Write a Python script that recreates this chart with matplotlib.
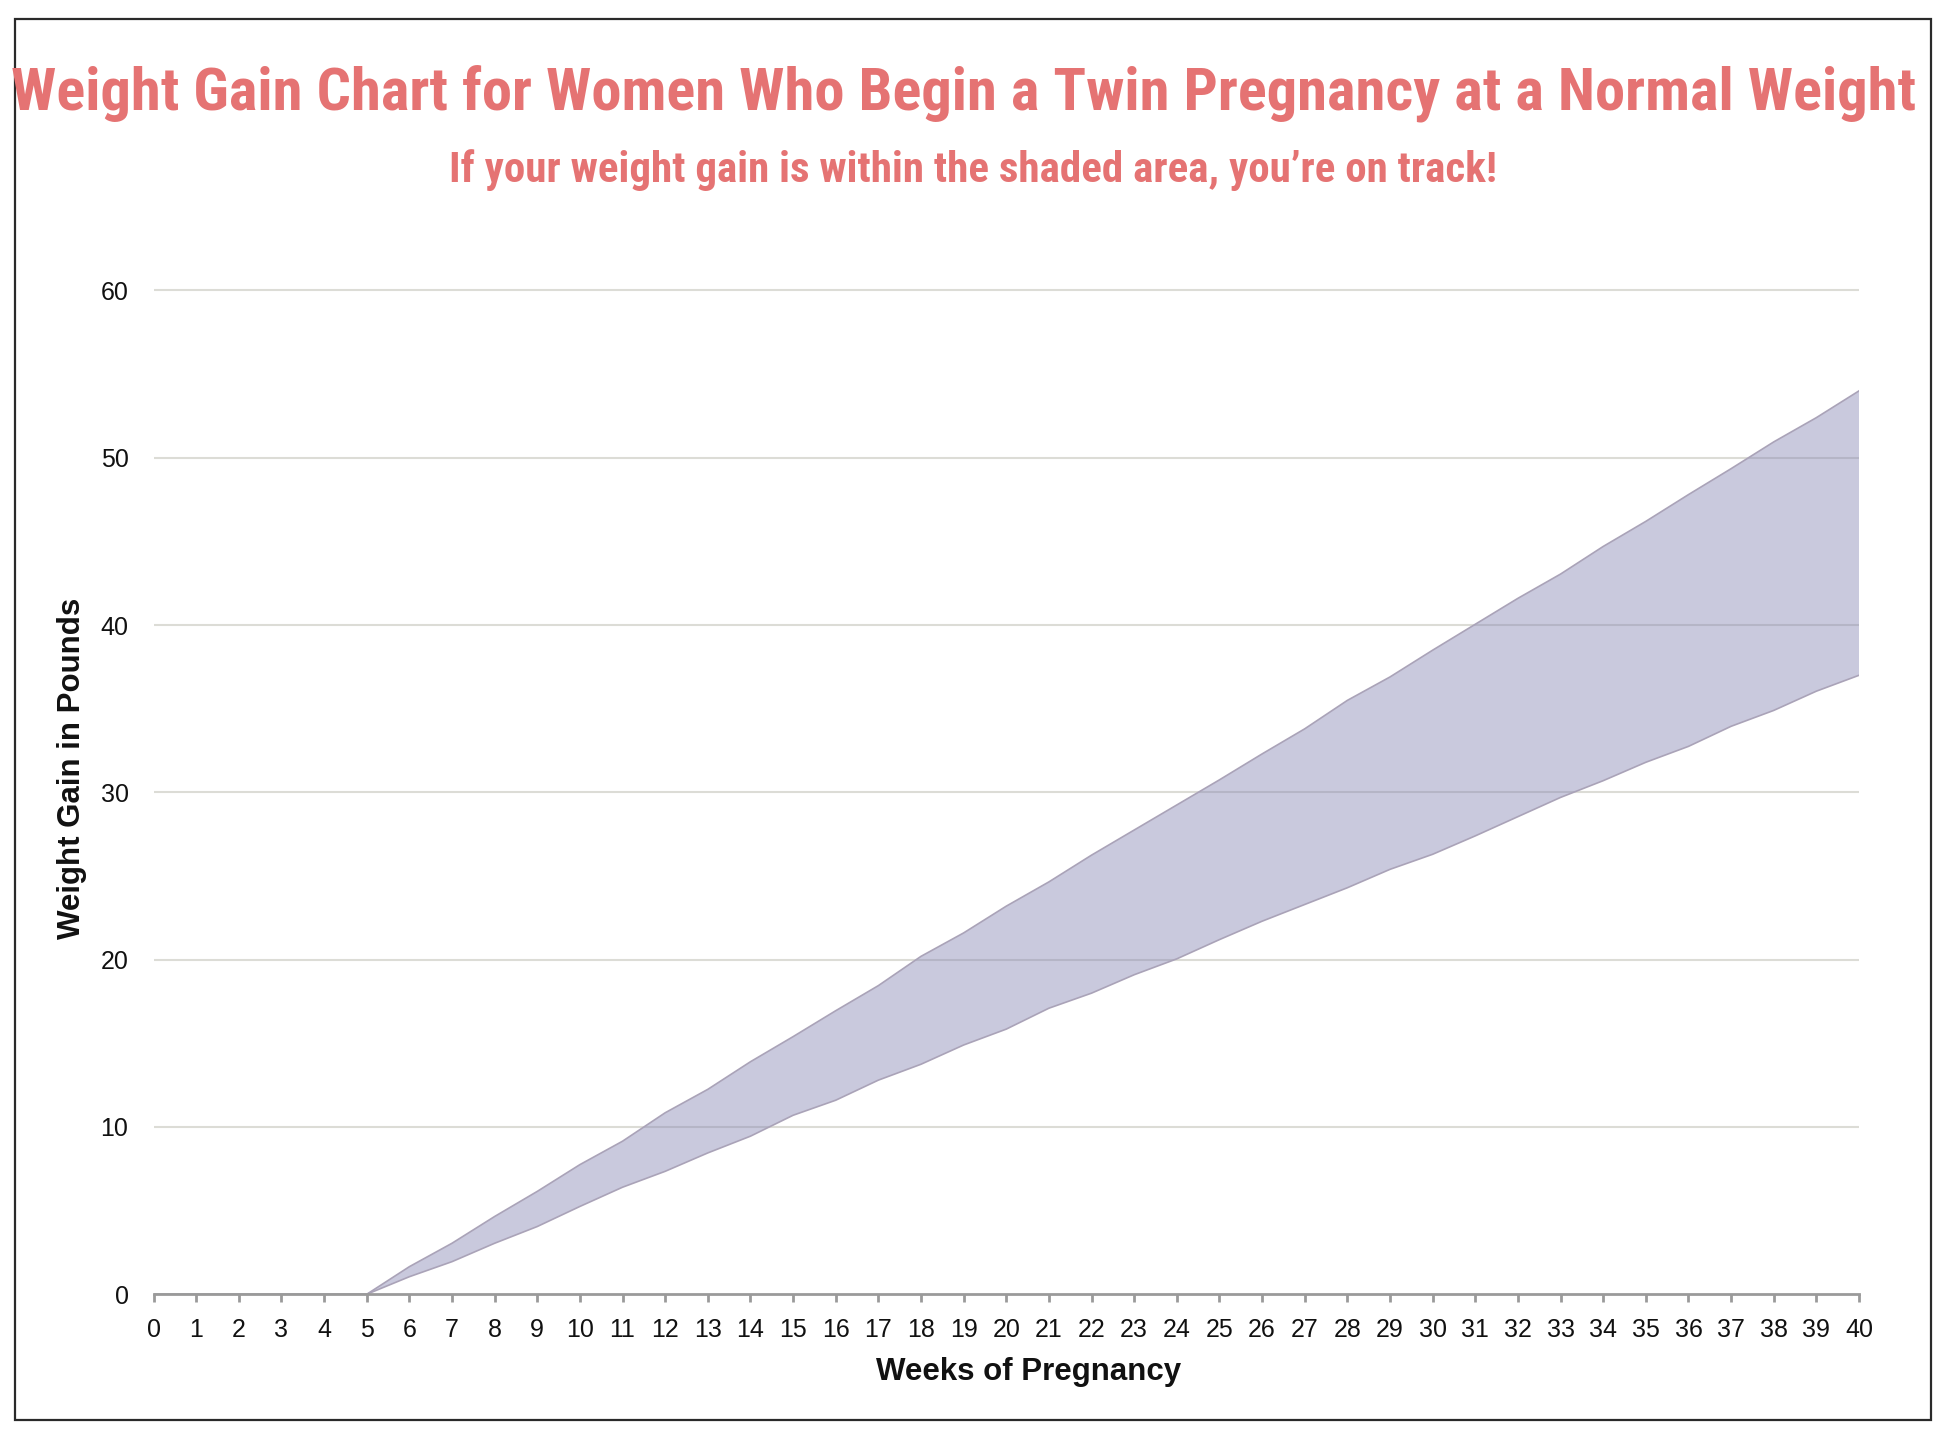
import matplotlib
matplotlib.use("Agg")
import matplotlib.pyplot as plt
from matplotlib import font_manager
from matplotlib.patches import Rectangle

# ---------------- data ----------------
weeks = list(range(0, 41))
lower_gain = [0, 0, 0, 0, 0, 0,
              1.05, 1.95, 3.05, 4.05, 5.25, 6.4, 7.35, 8.45, 9.45, 10.7,
              11.6, 12.8, 13.75, 14.9, 15.85, 17.1, 18.0, 19.1, 20.05, 21.2,
              22.3, 23.3, 24.3, 25.4, 26.3, 27.4, 28.55, 29.7, 30.7, 31.8,
              32.75, 33.95, 34.9, 36.05, 37.0]
upper_gain = [0, 0, 0, 0, 0, 0,
              1.65, 3.05, 4.65, 6.15, 7.75, 9.15, 10.85, 12.25, 13.9, 15.4,
              16.95, 18.45, 20.2, 21.6, 23.2, 24.65, 26.25, 27.75, 29.25, 30.75,
              32.3, 33.8, 35.5, 36.9, 38.5, 40.05, 41.6, 43.05, 44.7, 46.2,
              47.8, 49.35, 50.95, 52.4, 54.0]
x_ticks = list(range(0, 41))
y_ticks = [0, 10, 20, 30, 40, 50, 60]

title = "Weight Gain Chart for Women Who Begin a Twin Pregnancy at a Normal Weight"
subtitle = "If your weight gain is within the shaded area, you\u2019re on track!"
xlabel = "Weeks of Pregnancy"
ylabel = "Weight Gain in Pounds"

# ---------------- fonts ----------------
available = {f.name for f in font_manager.fontManager.ttflist}
def pick(cands):
    for c in cands:
        if c in available:
            return c
    return "DejaVu Sans"

narrow = pick(["Liberation Sans Narrow", "Roboto Condensed", "DejaVu Sans Condensed",
               "Open Sans Condensed", "Liberation Sans"])
sans = pick(["Liberation Sans", "Roboto", "DejaVu Sans"])
plt.rcParams['font.family'] = [sans, 'DejaVu Sans']

W, H = 1950, 1436
DPI = 100
fig = plt.figure(figsize=(W / DPI, H / DPI), dpi=DPI)
fig.patch.set_facecolor("white")

# border frame
fig.patches.append(Rectangle((15 / W, 1 - 1420 / H), (1931 - 15) / W, (1420 - 19) / H,
                             transform=fig.transFigure, fill=False,
                             edgecolor="#2a2a2a", linewidth=1.6, zorder=0))

# axes placement
x_left, x_right = 153.5, 1859.0
y0_px, px_per_lb = 1294.3, 16.73
ymax = 62
ax = fig.add_axes([x_left / W, 1 - y0_px / H,
                   (x_right - x_left) / W, ymax * px_per_lb / H])
ax.set_xlim(0, 40)
ax.set_ylim(0, ymax)

# grid lines
for yv in y_ticks[1:]:
    ax.axhline(yv, color="#dcdcd6", linewidth=1.5, zorder=1)

# shaded band
ax.fill_between(weeks, lower_gain, upper_gain, facecolor="#8080b0", alpha=0.42,
                edgecolor="none", zorder=2)
ax.plot(weeks, upper_gain, color="#aaa3b8", linewidth=1.2, zorder=3)
ax.plot(weeks, lower_gain, color="#aaa3b8", linewidth=1.2, zorder=3)

for s in ["top", "right", "left"]:
    ax.spines[s].set_visible(False)
ax.spines["bottom"].set_color("#9a9a9a")
ax.spines["bottom"].set_linewidth(2.0)
ax.spines["bottom"].set_zorder(4)

ax.set_xticks(x_ticks)
ax.set_xticklabels([str(v) for v in x_ticks])
ax.set_yticks(y_ticks)
ax.set_yticklabels([str(v) for v in y_ticks])
ax.tick_params(axis="x", length=6, width=2, color="#9a9a9a", pad=11,
               labelsize=18, labelcolor="#111111")
ax.tick_params(axis="y", length=0, pad=18, labelsize=18, labelcolor="#111111")
ax.patch.set_alpha(0)

# axis labels
fig.text(1029 / W, 1 - 1380 / H, xlabel, ha="center", va="baseline",
         fontsize=22.5, fontweight="bold", color="#111111", family=[sans])
fig.text(72 / W, 1 - 768 / H, ylabel, ha="center", va="center", rotation=90,
         fontsize=22.5, fontweight="bold", color="#111111", family=[sans])

# titles (fit width)
red = "#e57373"
renderer = fig.canvas.get_renderer()
def fitted_text(xc, ybase, s, target_w, size0):
    t = fig.text(xc / W, 1 - ybase / H, s, ha="center", va="baseline",
                 fontsize=size0, fontweight="bold", color=red, family=[narrow, sans])
    bb = t.get_window_extent(renderer=renderer)
    t.set_fontsize(size0 * target_w / bb.width)
    return t

fitted_text(964, 109, title, 1903, 44)
fitted_text(973, 182, subtitle, 1045, 29)

fig.savefig("out.png", dpi=DPI, facecolor="white")
